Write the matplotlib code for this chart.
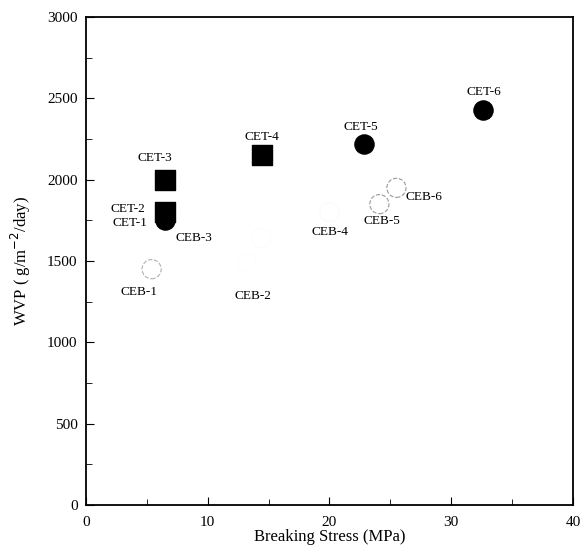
import matplotlib.pyplot as plt
from matplotlib.ticker import MultipleLocator

plt.rcParams['font.family'] = ['Liberation Serif', 'DejaVu Serif']

# CET samples
cet_names = ['CET-1', 'CET-2', 'CET-3', 'CET-4', 'CET-5', 'CET-6']
cet_stress = [6.5, 6.5, 6.5, 14.5, 22.8, 32.6]
cet_wvp = [1750, 1800, 2000, 2150, 2220, 2430]
cet_marker = ['o', 's', 's', 's', 'o', 'o']

# CEB samples
ceb_names = ['CEB-1', 'CEB-2', 'CEB-3', 'CEB-4', 'CEB-5', 'CEB-6']
ceb_stress = [5.4, 13.2, 14.4, 20.0, 24.1, 25.5]
ceb_wvp = [1450, 1490, 1640, 1800, 1850, 1950]

# label offsets in pixels and marker edge styles (layout / style)
cet_off = [(-35, -3), (-37, 3), (-10, 22), (-1, 18), (-3, 17), (1, 18)]
ceb_off = [(-13, -23), (6, -33), (-67, 0), (0, -20), (2, -17), (28, -9)]
ceb_edge = ['#b0b0b0', '#f8f8f8', '#f4f4f4', '#f0f0f0', '#999999', '#999999']
ceb_lw = [0.8, 0.3, 0.3, 0.3, 0.8, 0.8]

fig = plt.figure(figsize=(5.8, 5.51), dpi=100)
ax = fig.add_axes([0.148, 0.0835, 0.84, 0.8855])

for i in range(len(cet_names)):
    ax.scatter(cet_stress[i], cet_wvp[i], marker=cet_marker[i], s=190,
               color='black', zorder=3)
    ax.annotate(cet_names[i], (cet_stress[i], cet_wvp[i]), xytext=cet_off[i],
                textcoords='offset pixels', ha='center', va='center', fontsize=9.5)

for i in range(len(ceb_names)):
    ax.scatter(ceb_stress[i], ceb_wvp[i], marker='o', s=190, facecolor='none',
               edgecolor=ceb_edge[i], linewidth=ceb_lw[i], linestyle='--', zorder=3)
    ax.annotate(ceb_names[i], (ceb_stress[i], ceb_wvp[i]), xytext=ceb_off[i],
                textcoords='offset pixels', ha='center', va='center', fontsize=9.5)

ax.set_xlim(0, 40)
ax.set_ylim(0, 3000)
ax.xaxis.set_major_locator(MultipleLocator(10))
ax.xaxis.set_minor_locator(MultipleLocator(5))
ax.yaxis.set_major_locator(MultipleLocator(500))
ax.yaxis.set_minor_locator(MultipleLocator(250))
ax.tick_params(which='both', direction='in', labelsize=11)
ax.tick_params(axis='y', pad=6)
ax.tick_params(axis='x', pad=8)
ax.tick_params(which='major', length=6)
ax.tick_params(which='minor', length=4)
for sp in ax.spines.values():
    sp.set_linewidth(1.3)

ax.set_xlabel('Breaking Stress (MPa)', fontsize=12, labelpad=0)
ax.set_ylabel('WVP ( g/m$^{-2}$/day)', fontsize=12, labelpad=10)

fig.savefig('out.png', dpi=100)
